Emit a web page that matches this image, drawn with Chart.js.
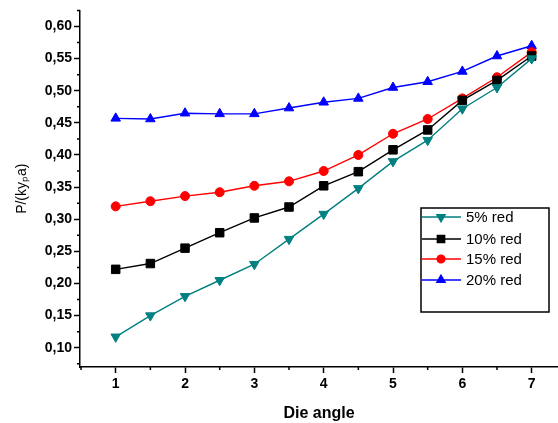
<!DOCTYPE html>
<html>
<head>
<meta charset="utf-8">
<script src="https://cdn.jsdelivr.net/npm/chart.js@4/dist/chart.umd.min.js"></script>
<style>
  html, body { margin: 0; padding: 0; background: #fff; overflow: hidden; }
  #wrap { width: 565px; height: 423px; }
</style>
</head>
<body>
<div id="wrap"><canvas id="myChart"></canvas></div>
<script>
// Die angle values (x)
let dieAngle = [1, 1.5, 2, 2.5, 3, 3.5, 4, 4.5, 5, 5.5, 6, 6.5, 7];

// P/(ky_p a) per reduction
let red5  = [0.117, 0.150, 0.180, 0.205, 0.230, 0.269, 0.308, 0.348, 0.390, 0.423, 0.472, 0.505, 0.550];
let red10 = [0.222, 0.231, 0.255, 0.279, 0.302, 0.319, 0.352, 0.374, 0.408, 0.439, 0.485, 0.516, 0.554];
let red15 = [0.320, 0.328, 0.336, 0.342, 0.352, 0.359, 0.375, 0.400, 0.433, 0.456, 0.488, 0.521, 0.560];
let red20 = [0.457, 0.456, 0.465, 0.464, 0.464, 0.473, 0.482, 0.488, 0.505, 0.514, 0.530, 0.554, 0.570];

let seriesLabels = ['5% red', '10% red', '15% red', '20% red'];

// tick labels
let xTicks = [1, 2, 3, 4, 5, 6, 7];
let yTicks = [0.10, 0.15, 0.20, 0.25, 0.30, 0.35, 0.40, 0.45, 0.50, 0.55, 0.60];
let xMinor = [0.5, 1.5, 2.5, 3.5, 4.5, 5.5, 6.5];
let yMinor = [0.075, 0.125, 0.175, 0.225, 0.275, 0.325, 0.375, 0.425, 0.475, 0.525, 0.575, 0.625];

const FONT = '"Liberation Sans", Arial, sans-serif';

function toPoints(ys){
    return ys.map((y, i) => ({x: dieAngle[i], y: y}));
}

const data = {
    datasets: [
      {
        label: seriesLabels[0],
        data: toPoints(red5),
        borderColor: 'rgb(0,128,128)',
        backgroundColor: 'rgb(0,128,128)',
        pointStyle: 'triangle',
        rotation: 180,
        pointRadius: 5.5,
      },
      {
        label: seriesLabels[1],
        data: toPoints(red10),
        borderColor: 'rgb(0,0,0)',
        backgroundColor: 'rgb(0,0,0)',
        pointStyle: 'rect',
        pointRadius: 6,
      },
      {
        label: seriesLabels[2],
        data: toPoints(red15),
        borderColor: 'rgb(255,0,0)',
        backgroundColor: 'rgb(255,0,0)',
        pointStyle: 'circle',
        pointRadius: 4.5,
      },
      {
        label: seriesLabels[3],
        data: toPoints(red20),
        borderColor: 'rgb(0,0,255)',
        backgroundColor: 'rgb(0,0,255)',
        pointStyle: 'triangle',
        pointRadius: 5.5,
      },
    ]
};

// minor ticks + legend box drawn inside the plot
const extras = {
    id: 'extras',
    afterDraw(chart){
        const ctx = chart.ctx;
        const xs = chart.scales.x, ys = chart.scales.y;
        ctx.save();
        ctx.strokeStyle = '#000';
        ctx.lineWidth = 1.5;
        ctx.beginPath();
        for (let v of xMinor){
            let px = xs.getPixelForValue(v);
            ctx.moveTo(px, xs.top); ctx.lineTo(px, xs.top + 3);
        }
        for (let v of yMinor){
            let py = ys.getPixelForValue(v);
            ctx.moveTo(ys.right, py); ctx.lineTo(ys.right - 3, py);
        }
        ctx.stroke();

        // legend
        let bx = 421, by = 208, bw = 128, bh = 104;
        ctx.fillStyle = '#fff';
        ctx.fillRect(bx, by, bw, bh);
        ctx.lineWidth = 1.5;
        ctx.strokeStyle = '#000';
        ctx.strokeRect(bx, by, bw, bh);
        let rows = [217, 239, 259, 280];
        chart.data.datasets.forEach((ds, i) => {
            let y = rows[i];
            ctx.strokeStyle = ds.borderColor;
            ctx.lineWidth = 1.5;
            ctx.beginPath();
            ctx.moveTo(bx + 1, y); ctx.lineTo(bx + 40, y);
            ctx.stroke();
            ctx.fillStyle = ds.backgroundColor;
            Chart.helpers.drawPoint(ctx, {
                pointStyle: ds.pointStyle, rotation: ds.rotation || 0,
                radius: ds.pointRadius * 0.85, borderWidth: 1
            }, bx + 20, y);
            ctx.fillStyle = '#000';
            ctx.font = '15px ' + FONT;
            ctx.textBaseline = 'middle';
            ctx.textAlign = 'left';
            ctx.fillText(ds.label, bx + 45, y + 1);
        });
        ctx.restore();
    }
};

const config = {
    type: 'line',
    data: data,
    plugins: [extras],
    options: {
        responsive: true,
        maintainAspectRatio: false,
        animation: false,
        layout: { padding: { top: 7, left: 0, right: 0, bottom: 0 } },
        elements: {
            line: { borderWidth: 1.4, tension: 0 },
            point: { borderWidth: 1 }
        },
        plugins: {
            legend: { display: false },
            tooltip: { enabled: false }
        },
        scales: {
            x: {
                type: 'linear',
                min: 0.485,
                max: 7.38,
                afterBuildTicks: s => { s.ticks = xTicks.map(v => ({value: v})); },
                afterFit: s => { s.height = 56; },
                border: { color: '#000', width: 1.5 },
                grid: { drawOnChartArea: false, tickLength: 6, tickColor: '#000', tickWidth: 1.5 },
                ticks: {
                    color: '#000',
                    padding: 3,
                    font: { family: FONT, size: 14, weight: 'bold' },
                    callback: v => String(v)
                },
                title: {
                    display: true,
                    text: 'Die angle',
                    color: '#000',
                    padding: { top: 4, bottom: 0 },
                    font: { family: FONT, size: 16, weight: 'bold' }
                }
            },
            y: {
                min: 0.07,
                max: 0.625,
                afterBuildTicks: s => { s.ticks = yTicks.map(v => ({value: v})); },
                afterFit: s => { s.width = 80; },
                border: { color: '#000', width: 1.5 },
                grid: { drawOnChartArea: false, tickLength: 6, tickColor: '#000', tickWidth: 1.5 },
                ticks: {
                    color: '#000',
                    padding: 2,
                    font: { family: FONT, size: 14, weight: 'bold' },
                    callback: v => v.toFixed(2).replace('.', ',')
                },
                title: {
                    display: true,
                    text: 'P/(kyₚa)',
                    color: '#000',
                    padding: { top: 14, bottom: 0 },
                    font: { family: FONT, size: 14 }
                }
            }
        }
    },
};

const myChart = new Chart(
    document.getElementById('myChart'),
    config
);
</script>
</body>
</html>
